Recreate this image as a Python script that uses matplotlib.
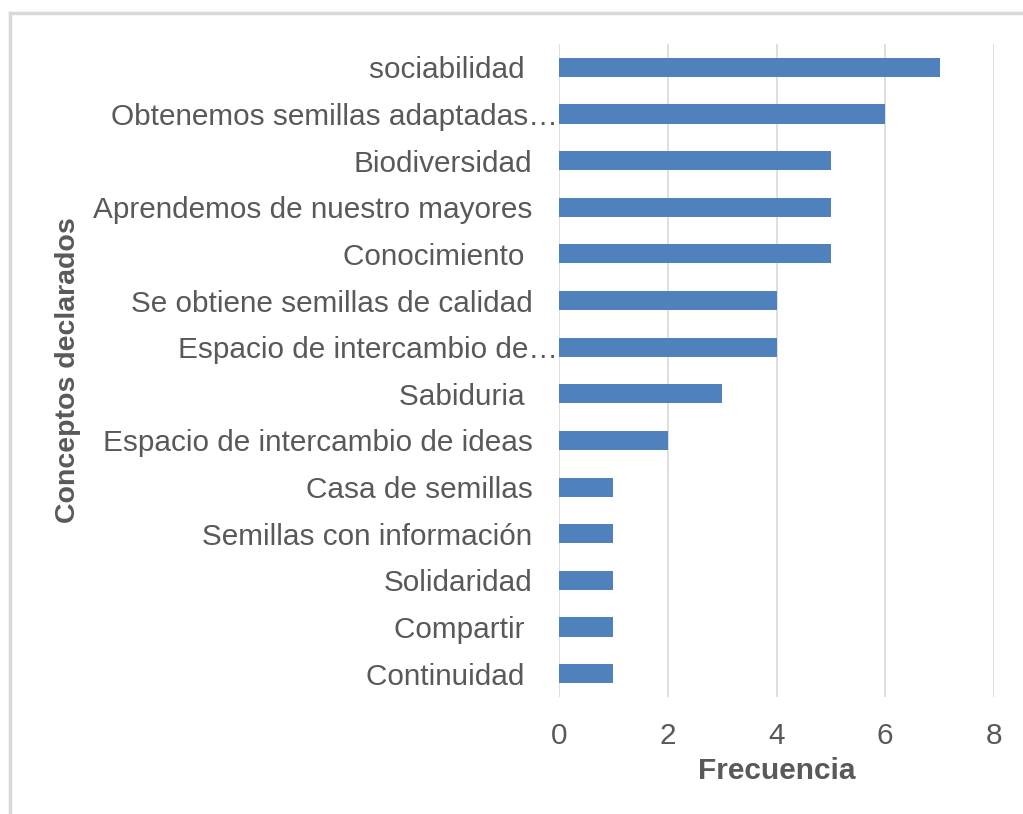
import matplotlib
matplotlib.use('Agg')
import matplotlib.pyplot as plt
from matplotlib.lines import Line2D
from matplotlib.transforms import ScaledTranslation

plt.rcParams['font.family'] = ['Liberation Sans', 'DejaVu Sans']

# categorias de abajo hacia arriba
conceptos = ['Continuidad ', 'Compartir ', 'Solidaridad', 'Semillas con información',
             'Casa de semillas', 'Espacio de intercambio de ideas', 'Sabiduria ',
             'Espacio de intercambio de…', 'Se obtiene semillas de calidad',
             'Conocimiento ', 'Aprendemos de nuestro mayores', 'Biodiversidad',
             'Obtenemos semillas adaptadas…', 'sociabilidad ']
frecuencia = [1, 1, 1, 1, 1, 2, 3, 4, 4, 5, 5, 5, 6, 7]
xticks = [0, 2, 4, 6, 8]

gris = '#595959'
fs = 21.4

fig = plt.figure(figsize=(10.23, 8.14), dpi=100)
ax = fig.add_axes([559/1023, 1-697/814, 435/1023, 653/814])

ax.barh(range(len(conceptos)), frecuencia, height=0.41, color='#4f81bd', zorder=3)
ax.set_ylim(-0.5, len(conceptos) - 0.5)
ax.set_xlim(0, 8)
ax.set_xticks(xticks)
ax.set_yticks(range(len(conceptos)))
ax.set_yticklabels(conceptos)
ax.grid(axis='x', color='#d9d9d9', linewidth=1.2, zorder=0)
ax.tick_params(axis='both', length=0, labelsize=fs, labelcolor=gris)
ax.tick_params(axis='y', pad=19)
ax.tick_params(axis='x', pad=18)
for s in ax.spines.values():
    s.set_visible(False)

# etiquetas truncadas quedan pegadas al eje
for lab in ax.get_yticklabels():
    if lab.get_text().endswith('…'):
        lab.set_transform(lab.get_transform() + ScaledTranslation(18/72, 0, fig.dpi_scale_trans))

fig.text(777/1023, 1-771/814, 'Frecuencia', ha='center', va='center',
         fontsize=21.5, fontweight='bold', color=gris)
fig.text(68/1023, 1-370/814, 'Conceptos declarados', ha='center', va='center',
         rotation=90, fontsize=20.5, fontweight='bold', color=gris)

# borde del grafico (solo arriba e izquierda visibles)
fig.add_artist(Line2D([10/1023, 1], [1-13/814, 1-13/814], color='#d9d9d9', lw=2.5))
fig.add_artist(Line2D([10/1023, 10/1023], [0, 1-13/814], color='#d9d9d9', lw=2.5))

fig.savefig('out.png', dpi=100)
